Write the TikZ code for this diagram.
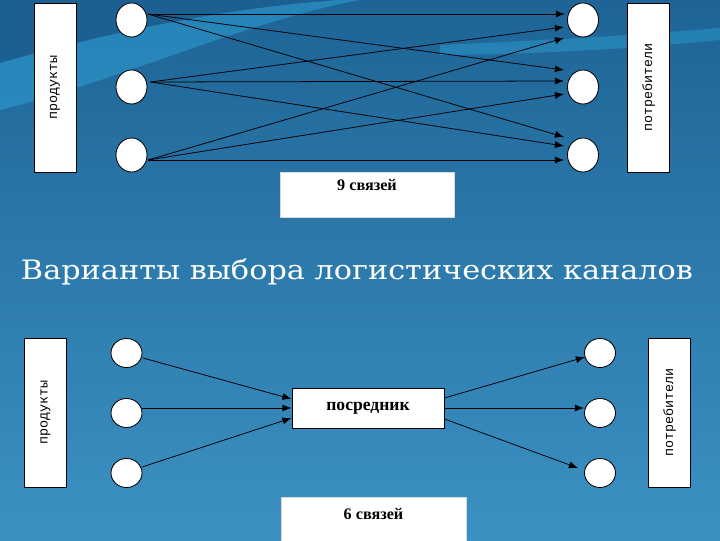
\documentclass[tikz,border=0pt]{standalone}
\usepackage{fontspec}
\setmainfont{Liberation Serif}
\newfontfamily\labelfont{Liberation Mono}
\newfontfamily\titlefont{DejaVu Serif}
\usetikzlibrary{shapes,arrows,arrows.meta,positioning,calc}

\definecolor{bgtop}{RGB}{30,100,150}
\definecolor{bgbot}{RGB}{60,145,195}
\definecolor{bgdark}{RGB}{28,96,145}
\definecolor{swoosh}{RGB}{45,160,212}

\begin{document}
\begin{tikzpicture}[x=0.025cm, y=0.025cm,
    party/.style={ellipse, draw, fill=white, line width=0.6pt, minimum width=0.775cm, minimum height=0.85cm, inner sep=0pt},
    sidebox/.style={rectangle, draw, fill=white, line width=0.6pt, minimum height=1.05cm, inner sep=0pt, rotate=90, font=\labelfont\fontsize{9.5}{10}\selectfont},
    countbox/.style={rectangle, draw=white!85!black, fill=white, inner xsep=0pt, inner ysep=0pt, font=\bfseries\fontsize{11.5}{12}\selectfont},
    arrow/.style={-{Latex[length=6.5pt,width=5pt]}, line width=0.55pt}]

    % background
    \useasboundingbox (0,0) rectangle (720,540);
    \clip (0,0) rectangle (720,540);
    \shade[top color=bgtop, bottom color=bgbot] (0,0) rectangle (720,540);
    \fill[bgdark] (0,540) -- (0,477) .. controls (100,505) and (220,532) .. (340,540) -- cycle;
    \fill[swoosh, opacity=0.55] (0,477) .. controls (100,505) and (220,532) .. (340,540)
        -- (360,540) .. controls (250,520) and (120,460) .. (0,430) -- cycle;
    \fill[swoosh, opacity=0.45] (440,495) .. controls (550,500) and (640,505) .. (720,512)
        -- (720,500) .. controls (640,492) and (550,486) .. (440,485) -- cycle;

    % direct channels
    \node[sidebox, minimum width=4.225cm] (prod1) at (55,452.5) {продукты};
    \node[sidebox, minimum width=4.225cm] (cons1) at (648.5,452.5) {потребители};
    \node[party] (p1) at (131.5,520) {};
    \node[party] (p2) at (131.5,453) {};
    \node[party] (p3) at (131.5,385) {};
    \node[party] (c1) at (583,520) {};
    \node[party] (c2) at (583,453) {};
    \node[party] (c3) at (583,385) {};

    \draw[arrow] ($(p1)+(16.5,6)$) -- ($(c1)+(-18,6)$);
    \draw[arrow] ($(p1)+(16.5,6)$) -- ($(c2)+(-19,17)$);
    \draw[arrow] ($(p1)+(16.5,6)$) -- ($(c3)+(-19,18)$);
    \draw[arrow] ($(p2)+(19,5)$) -- ($(c1)+(-19,-7)$);
    \draw[arrow] ($(p2)+(19,5)$) -- ($(c2)+(-19,6)$);
    \draw[arrow] ($(p2)+(19,5)$) -- ($(c3)+(-19,9)$);
    \draw[arrow] ($(p3)+(16.5,-5)$) -- ($(c1)+(-19,-18)$);
    \draw[arrow] ($(p3)+(16.5,-5)$) -- ($(c2)+(-19,-7)$);
    \draw[arrow] ($(p3)+(16.5,-5)$) -- ($(c3)+(-19,-5)$);

    \node[countbox, minimum width=4.35cm, text height=0.475cm, text depth=0.65cm] (links9) at (367,345.5) {9 связей};

    \node[font=\titlefont\fontsize{19}{20}\selectfont, text=white] (title) at (357,261) [anchor=base] {\scalebox{1.135}[1]{Варианты выбора логистических каналов}};

    % channels through an intermediary
    \node[sidebox, minimum width=3.725cm] (prod2) at (45.5,127.5) {продукты};
    \node[sidebox, minimum width=3.725cm] (cons2) at (669.5,127.5) {потребители};
    \node[party, minimum height=0.725cm] (q1) at (126.5,187) {};
    \node[party, minimum height=0.725cm] (q2) at (126.5,127) {};
    \node[party, minimum height=0.725cm] (q3) at (126.5,67) {};
    \node[party, minimum height=0.725cm] (d1) at (600,187) {};
    \node[party, minimum height=0.725cm] (d2) at (600,127) {};
    \node[party, minimum height=0.725cm] (d3) at (600,67) {};
    \node[rectangle, draw, fill=white, line width=0.6pt, minimum width=3.8cm, minimum height=1cm, font=\bfseries\fontsize{12.5}{13}\selectfont] (mid) at (368,132) {посредник};

    \draw[arrow] ($(q1)+(16.5,-5)$) -- ($(mid.west)+(0,9)$);
    \draw[arrow] ($(q2)+(15.5,5)$) -- (mid.west);
    \draw[arrow] ($(q3)+(15.5,6)$) -- ($(mid.west)+(0,-10)$);
    \draw[arrow] ($(mid.east)+(0,10)$) -- ($(d1)+(-15,-4)$);
    \draw[arrow] (mid.east) -- ($(d2)+(-16,5)$);
    \draw[arrow] ($(mid.east)+(0,-11)$) -- ($(d3)+(-22,5)$);

    \node[countbox, minimum width=4.625cm, text height=0.55cm, text depth=0.65cm] (links6) at (373.5,19) {6 связей};
\end{tikzpicture}
\end{document}
